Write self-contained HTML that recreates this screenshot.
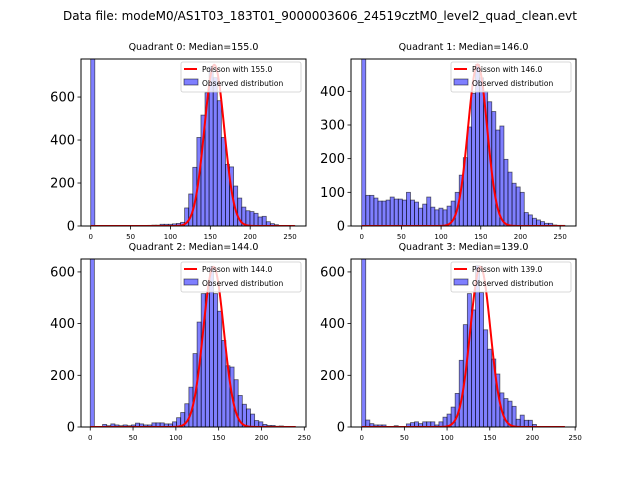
<!DOCTYPE html>
<html><head><meta charset="utf-8"><style>
html,body{margin:0;padding:0;background:#fff;}
svg{display:block;font-family:"DejaVu Sans","Liberation Sans",sans-serif;}
</style></head><body>
<svg id="fig" width="640" height="480" viewBox="0 0 640 480">
<text x="320" y="20" text-anchor="middle" font-size="12">Data file: modeM0/AS1T03_183T01_9000003606_24519cztM0_level2_quad_clean.evt</text>
</svg>
<script>
const q0Counts=[2000,0,0,0,0,0,0,0,0,0,0,0,0,0,3,4,4,8,8,8,10,12,17,84,149,273,412,516,620,740,690,583,412,287,275,186,130,88,71,67,59,42,45,20,11,6,2,2,2,2];
const q1Counts=[2000,91,91,83,74,74,77,86,80,80,77,100,77,71,53,65,86,56,48,53,48,59,74,100,151,203,294,394,480,440,400,369,340,285,297,198,160,127,116,100,40,33,23,18,13,8,8,3,2,2];
const q2Counts=[2000,0,0,10,5,12,8,5,8,5,8,15,12,8,8,16,16,16,12,12,20,36,56,90,154,284,406,516,516,620,516,448,335,237,232,183,122,88,70,50,25,20,10,6,6,3,4,2,0,0];
const q3Counts=[2000,27,13,8,8,8,0,0,5,0,0,12,17,20,13,20,20,20,8,20,38,50,77,130,258,396,516,453,624,520,376,301,263,205,132,110,100,80,30,46,26,26,10,0,0,0,0,0,0,0];
const medians=[155.0,146.0,144.0,139.0];
const peakAmps=[750,480,620,620];
const binMax=[256,256,240,238];
const yTicks0=[0,200,400,600];
const yTicks1=[0,100,200,300,400];
const yTicks2=[0,200,400,600];
const yTicks3=[0,200,400,600];
const xTicks=[0,50,100,150,200,250];

const panels=[
 {counts:q0Counts,yt:yTicks0,L:81,R:306,T:59,B:226,xmin:-12.2,xmax:270,ymax:777},
 {counts:q1Counts,yt:yTicks1,L:351,R:576,T:59,B:226,xmin:-13.5,xmax:270,ymax:496},
 {counts:q2Counts,yt:yTicks2,L:81,R:306,T:259,B:427,xmin:-10.8,xmax:252,ymax:650},
 {counts:q3Counts,yt:yTicks3,L:351,R:576,T:259,B:427,xmin:-12.5,xmax:251,ymax:650}
];
const NS='http://www.w3.org/2000/svg';
const fig=document.getElementById('fig');
function mk(tag,attrs,parent){const e=document.createElementNS(NS,tag);for(const k in attrs)e.setAttribute(k,attrs[k]);(parent||fig).appendChild(e);return e;}
panels.forEach((p,k)=>{
 const sx=v=>p.L+(v-p.xmin)/(p.xmax-p.xmin)*(p.R-p.L);
 const sy=v=>p.B-v/p.ymax*(p.B-p.T);
 const g=mk('g',{});
 
 
 const cp=mk('clipPath',{id:'c'+k},g);
 mk('rect',{x:p.L,y:p.T,width:p.R-p.L,height:p.B-p.T},cp);
 const t=mk('text',{x:(p.L+p.R)/2,y:p.T-9,'text-anchor':'middle','font-size':'9.5'},g);
 t.textContent='Quadrant '+k+': Median='+medians[k].toFixed(1);
 
 
 const bars=mk('g',{'clip-path':'url(#c'+k+')'},g);
 
 
 const n=p.counts.length,w=binMax[k]/n;
 p.counts.forEach((c,i)=>{
  if(c<=0)return;
  const x0=sx(i*w),x1=sx((i+1)*w),y=sy(c);
  const r=mk('rect',{x:x0,y:y,width:x1-x0,height:p.B-y,fill:'rgba(0,0,255,0.5)',stroke:'rgba(0,0,0,0.6)','stroke-width':'0.8'},bars);
  
  
 });
 let d='';const mu=medians[k];
 for(let v=0;v<=binMax[k];v+=0.5){const y=peakAmps[k]*Math.exp(-(v-mu)*(v-mu)/(2*mu));d+=(d?'L':'M')+sx(v).toFixed(2)+','+sy(y).toFixed(2);}
 const pl=mk('path',{d:d,fill:'none',stroke:'#ff0000','stroke-width':'2','clip-path':'url(#c'+k+')'},g);
 
 
 mk('rect',{x:p.L,y:p.T,width:p.R-p.L,height:p.B-p.T,fill:'none',stroke:'#000','stroke-width':'1'},g);
 p.yt.forEach(v=>{const y=sy(v);mk('line',{x1:p.L-3.5,x2:p.L,y1:y,y2:y,stroke:'#000','stroke-width':'0.8'},g);
  const tt=mk('text',{x:p.L-6,y:y+4.5,'text-anchor':'end','font-size':'13'},g);tt.textContent=v;
  
  });
 xTicks.forEach(v=>{const x=sx(v);if(x>p.R+1)return;mk('line',{x1:x,x2:x,y1:p.B,y2:p.B+3.5,stroke:'#000','stroke-width':'0.8'},g);
  const tt=mk('text',{x:x,y:p.B+13,'text-anchor':'middle','font-size':'7'},g);tt.textContent=v;
  
  });
 const lg=mk('g',{},g);
 
 
 const lx=p.R-125,ly=p.T+3;
 mk('rect',{x:lx,y:ly,width:120,height:30,fill:'rgba(255,255,255,0.8)',stroke:'#ccc','stroke-width':'0.8',rx:2},lg);
 mk('line',{x1:lx+3,x2:lx+16,y1:ly+7,y2:ly+7,stroke:'#ff0000','stroke-width':'2'},lg);
 const t1=mk('text',{x:lx+21,y:ly+10,'font-size':'7.5'},lg);t1.textContent='Poisson with '+medians[k].toFixed(1);
 
 
 mk('rect',{x:lx+3,y:ly+17,width:14,height:6,fill:'rgba(0,0,255,0.5)',stroke:'rgba(0,0,0,0.6)','stroke-width':'0.8'},lg);
 const t2=mk('text',{x:lx+21,y:ly+24,'font-size':'7.5'},lg);t2.textContent='Observed distribution';
 
 
});
</script>
</body></html>
